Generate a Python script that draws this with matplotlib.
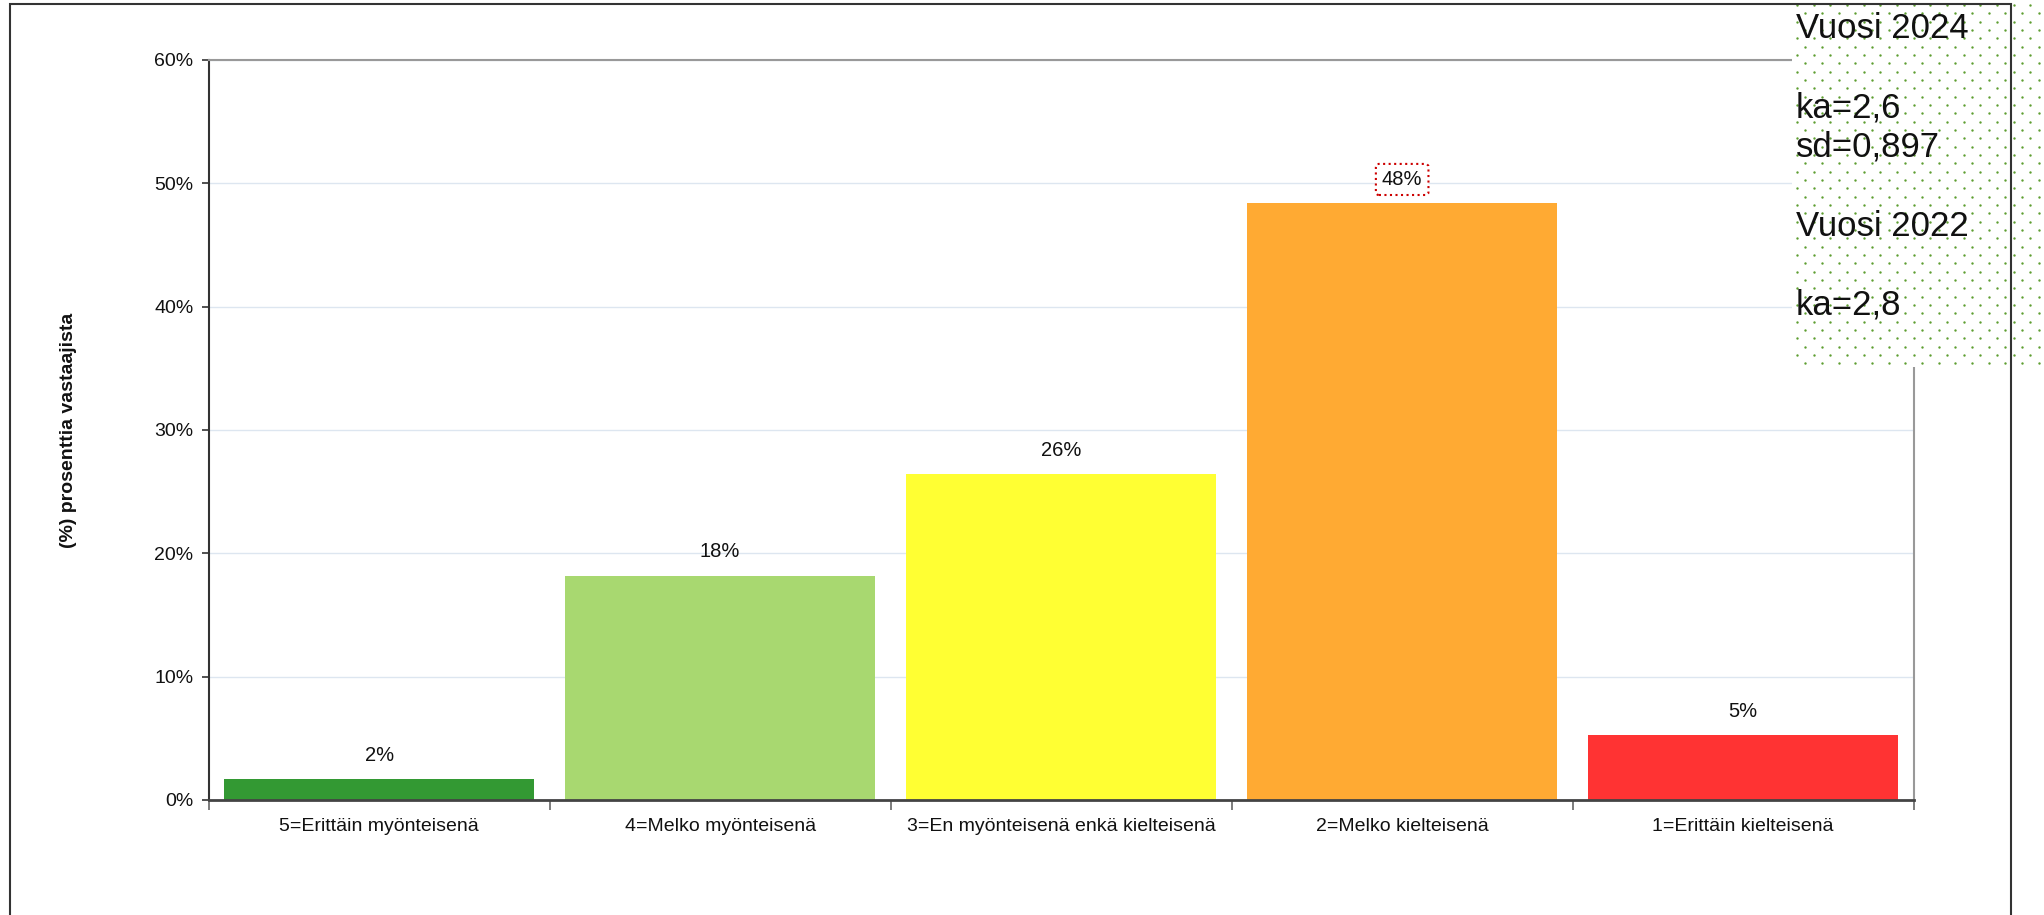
import numpy as np
import matplotlib
matplotlib.use("Agg")
import matplotlib.pyplot as plt
from matplotlib.patches import Rectangle

plt.rcParams['font.family'] = ['Liberation Sans', 'DejaVu Sans']

# data
categories = ['5=Erittäin myönteisenä', '4=Melko myönteisenä',
              '3=En myönteisenä enkä kielteisenä', '2=Melko kielteisenä',
              '1=Erittäin kielteisenä']
values = [1.7, 18.2, 26.4, 48.4, 5.3]
value_labels = ['2%', '18%', '26%', '48%', '5%']
bar_colors = ['#339933', '#A8D870', '#FFFF33', '#FFAA33', '#FF3333']
y_ticks = [0, 10, 20, 30, 40, 50, 60]
y_ticklabels = ['0%', '10%', '20%', '30%', '40%', '50%', '60%']
info_text = 'Vuosi 2024\n\nka=2,6\nsd=0,897\n\nVuosi 2022\n\nka=2,8'

W, H = 2044, 915
fig = plt.figure(figsize=(W / 100, H / 100), dpi=100)
fig.patch.set_facecolor('white')

# outer frame
fig.patches.append(Rectangle((10 / W, -0.02), (2011 - 10) / W, 1.02 - 4 / H,
                             transform=fig.transFigure, fill=False,
                             edgecolor='#333333', linewidth=1.5, zorder=0))

ax = fig.add_axes([208.6 / W, 115 / H, (1913.7 - 208.6) / W, 740 / H])
x = np.arange(len(categories))
ax.bar(x, values, width=0.91, color=bar_colors, zorder=2)

ax.set_xlim(-0.5, len(categories) - 0.5)
ax.set_ylim(0, 60)
ax.set_yticks(y_ticks)
ax.set_yticklabels(y_ticklabels)
ax.yaxis.grid(True, color='#DDE6F0', linewidth=1.0, zorder=0)

# category boundaries as major ticks, labels on minor ticks
ax.set_xticks(np.arange(-0.5, len(categories), 1.0))
ax.set_xticklabels([])
ax.set_xticks(x, minor=True)
ax.set_xticklabels(categories, minor=True)
ax.tick_params(axis='x', which='major', length=7, width=1.2, color='#666666')
ax.tick_params(axis='x', which='minor', length=0, pad=13, labelsize=14, labelcolor='#111111')
ax.tick_params(axis='y', length=5, width=1.2, color='#333333', pad=6, labelsize=14, labelcolor='#111111')

for side in ['top', 'right']:
    ax.spines[side].set_color('#999999')
    ax.spines[side].set_linewidth(1.5)
ax.spines['left'].set_color('#333333')
ax.spines['left'].set_linewidth(1.5)
ax.spines['bottom'].set_color('#444444')
ax.spines['bottom'].set_linewidth(2)

ax.set_ylabel('(%) prosenttia vastaajista', fontsize=14, fontweight='bold', color='#111111')
ax.yaxis.set_label_coords(-0.077, 0.5)

imax = int(np.argmax(values))
for i, (v, lab) in enumerate(zip(values, value_labels)):
    kw = {}
    if i == imax:
        kw['bbox'] = dict(boxstyle='round,pad=0.3,rounding_size=0.15', fc='white',
                          ec='#CC0000', ls=':', lw=1.5)
    ax.annotate(lab, (i, v), xytext=(0, 17), textcoords='offset points',
                ha='center', va='center', fontsize=14.5, color='#111111', zorder=3, **kw)

# info box with dotted background
bx0 = 1792
bw, bh = W - bx0, 367
bax = fig.add_axes([bx0 / W, (H - bh) / H, bw / W, bh / H])
bax.set_xlim(0, bw)
bax.set_ylim(bh, 0)
bax.set_facecolor('white')
bax.axis('off')
bax.add_patch(Rectangle((0, 0), bw, bh, facecolor='white', edgecolor='none', zorder=0))
step = 25 / 3
rows = np.arange(5, bh, step)
pts_x, pts_y = [], []
for r, yy in enumerate(rows):
    xs = np.arange(5 + (r % 2) * step, bw, 2 * step)
    pts_x.extend(xs)
    pts_y.extend([yy] * len(xs))
bax.scatter(pts_x, pts_y, s=3, color='#5E9E32', linewidths=0, zorder=1)
bax.text(4, 12, info_text, ha='left', va='top', fontsize=25, color='#111111',
         linespacing=1.25, zorder=2)

fig.savefig('out.png', dpi=100)
